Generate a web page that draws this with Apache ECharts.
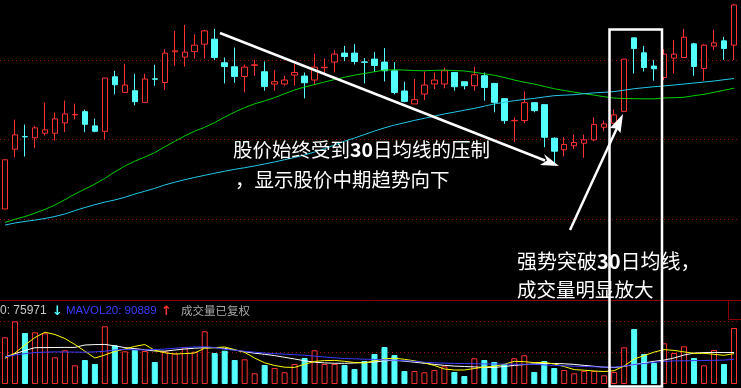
<!DOCTYPE html>
<html><head><meta charset="utf-8">
<script src="https://cdn.jsdelivr.net/npm/echarts@6/dist/echarts.min.js"></script>
<style>html,body{margin:0;padding:0;background:#000;}#c{width:741px;height:388px;}</style>
</head><body><div id="c"></div><script>
// ---- data ----
const openP = [9.03,15.03,16.30,16.17,16.63,16.63,17.67,18.48,18.80,17.37, 16.83,22.30,20.73,20.90,19.73,22.09,21.73,24.80,24.27,24.83, 25.57,26.07,23.70,23.30,22.33,23.45,22.80,21.57,21.57,22.47, 22.37,21.97,23.21,23.77,24.67,24.67,23.79,24.07,23.77,22.90, 20.87,19.57,20.57,21.57,21.57,22.73,21.80,21.40,22.40,21.63, 20.10,17.88,17.90,19.70,19.50,16.13,14.97,15.37,15.63,15.97, 17.23,17.63,18.83,26.20,24.70,23.37,22.23,24.17,24.23,25.60, 23.13,25.37,25.90,25.47];
const closeP = [13.97,16.47,16.27,17.17,16.97,18.07,18.57,18.52,17.53,16.83, 22.17,21.50,21.47,19.80,22.07,22.05,24.67,24.90,24.77,25.47, 26.90,24.23,23.33,22.33,23.27,23.49,21.33,21.80,21.97,22.73, 21.70,23.27,23.25,24.57,24.33,23.83,23.75,23.43,22.90,20.73, 19.83,20.00,21.47,21.97,22.90,21.30,21.40,22.50,21.23,19.73, 17.90,17.92,19.70,18.90,16.23,14.83,15.50,15.70,15.97,17.50, 17.57,18.47,24.07,25.13,23.23,23.10,24.57,24.57,26.27,23.33, 25.47,25.70,25.13,29.50];
const lowP = [9.03,14.23,14.30,15.13,16.40,15.90,16.73,18.00,16.73,16.73, 16.00,20.53,20.73,19.43,19.73,21.40,20.97,23.40,23.33,24.13, 24.13,23.97,21.63,21.70,20.73,22.40,20.90,20.90,21.40,21.40, 20.13,21.47,22.57,22.73,23.87,23.53,21.63,22.80,21.83,20.53, 19.73,19.57,19.97,21.07,21.13,20.90,21.03,20.90,19.90,18.73, 17.57,15.73,17.63,18.73,15.23,13.63,14.30,15.03,14.17,15.83, 16.83,17.63,18.83,22.63,22.83,21.90,21.97,22.63,24.23,22.40, 21.90,25.00,24.00,23.97];
const highP = [13.97,18.00,17.50,17.37,19.70,18.70,19.90,19.60,19.00,18.10, 22.17,22.90,23.60,22.60,22.60,23.50,25.07,26.90,27.50,26.57, 27.00,27.10,24.23,25.23,23.53,24.00,23.83,22.97,22.40,23.57, 22.73,24.60,24.13,24.97,25.40,25.57,24.17,24.77,25.17,23.77, 21.80,22.07,22.83,22.73,23.23,22.73,21.80,23.30,22.73,21.63, 20.10,18.23,20.83,19.70,19.50,16.23,16.23,16.50,16.50,18.23, 17.90,19.00,24.07,26.20,25.40,23.97,25.07,26.00,27.10,25.70, 25.57,27.00,26.30,29.60];
const ma30 = [7.68,8.00,8.27,8.62,8.99,9.43,9.97,10.53,11.03,11.53, 12.10,12.76,13.34,13.83,14.24,14.69,15.27,15.82,16.36,16.84, 17.23,17.70,18.25,18.75,19.21,19.58,19.88,20.20,20.60,20.97, 21.27,21.52,21.77,22.02,22.25,22.46,22.63,22.80,22.97,23.00, 22.97,22.92,22.90,22.94,22.97,22.92,22.88,22.75,22.60,22.45, 22.23,21.97,21.75,21.57,21.33,21.10,20.92,20.75,20.60,20.45, 20.30,20.16,20.12,20.10,20.08,20.08,20.17,20.20,20.24,20.40, 20.54,20.74,20.94,21.15];
const ma60 = [7.42,7.63,7.78,7.92,8.08,8.28,8.53,8.87,9.18,9.46, 9.72,9.94,10.20,10.53,10.81,11.10,11.44,11.72,11.97,12.20, 12.41,12.62,12.82,13.01,13.17,13.35,13.55,13.75,13.98,14.20, 14.45,14.75,15.08,15.45,15.83,16.15,16.50,16.85,17.17,17.45, 17.68,17.92,18.13,18.35,18.57,18.75,18.94,19.13,19.35,19.57, 19.74,19.90,20.02,20.13,20.27,20.40,20.45,20.50,20.60,20.68, 20.74,20.81,20.95,21.10,21.20,21.30,21.38,21.47,21.57,21.67, 21.77,21.87,22.00,22.12];
const volume = [46.7,62.7,51,51.7,50.7,26.7,33.7,18.7,24,20, 57.7,38.7,32.7,34,33,22,32.7,30.7,36.7,32.3, 52.7,31,33.3,24,24.7,10.7,19,16,11.7,20, 26,33.7,20,20,19,15,23,30,37,29, 13,13,11.7,14,17.7,12,8,25.7,24,22, 20,25.7,28.7,12,23,16,14,10.7,13,13, 8.7,12,36.7,55,30,21,40.7,31,37.7,26, 18.7,34,20,56];
const mavol5 = [25.6,31,39,46.4,51.8,49.5,45.5,39.5,32.8,26, 29,32.6,35,37.6,39.5,33.7,31.2,30,30.4,31, 35.8,36.4,37,34.4,31.6,26,21.2,18.5,16.8,16.6, 19.7,22.6,23.4,23.6,22.7,21.5,21,23.1,25.1,25.8, 24.7,23.2,21.2,18.5,15,14,14,15.5,17,17.6, 19.7,22.7,22.3,21.4,21.6,20,17.4,14.4,13.8,13, 12.5,13.3,18,25,28.4,31.9,34.4,33.6,32.1,30.7, 30.7,29.7,28.7,30.3];
const mavol10 = [27,30.3,33.5,36.3,36.4,36.5,36.6,36.6,39,39.4, 39.6,38.1,36.4,35.4,34.2,33,32.8,34,35,35.8, 36.3,36.3,35.6,33.9,32.3,30.8,29.7,28.4,26.7,25, 23.2,21.8,21.1,20.7,20.7,21,21.7,21.8,23.2,23.7, 22.8,21.8,20.7,19.6,18.6,17.9,17.5,17.1,16.6,16.6, 17.5,18.6,19.4,20.1,20.5,20.5,20.2,19.6,18.6,17.7, 16.8,16.5,17.6,19.4,21,22.7,23.9,26,29,30.9, 31.4,31.6,31.4,31.5];
const mavol20 = [27,29,30.3,31.5,31.8,32.1,32,31.9,31.8,32.1, 32.8,34,34.6,34.2,34.1,34.5,34.9,35.8,36.5,37, 37.2,36.5,34.7,33.8,32.7,31.8,31,30.4,29.8,29.3, 28.7,27.8,27,26.2,25.5,25.2,24.8,24.6,24.2,23.8, 23.3,22.7,21.8,21.2,20.9,20.6,20.4,20.3,20.1,20, 19.9,19.8,19.7,19.5,19.1,18.6,18.2,17.8,17.5,17.2, 16.9,16.9,18,19.4,20.5,21.7,22.6,23.1,23.2,23.4, 23.5,23.7,23.9,24.7];
const categories = openP.map((_, i) => 'D' + (i + 1));
const legendTexts = ['0: 75971', 'MAVOL20: 90889', '成交量已复权'];
const note1 = ['股价始终受到', '30', '日均线的压制', '，显示股价中期趋势向下'];
const note2 = ['强势突破', '30', '日均线，', '成交量明显放大'];

// ---- chart ----
const RED = '#ff3232', CYAN = '#54ffff';
const kData = openP.map((o, i) => [o, closeP[i], lowP[i], highP[i]]);
const volData = volume.map((v, i) => {
  const up = closeP[i] >= openP[i];
  return { value: v, itemStyle: { color: up ? '#000' : CYAN, borderColor: up ? RED : CYAN, borderWidth: 1 } };
});
const chart = echarts.init(document.getElementById('c'));
const cjk = '"Noto Sans CJK SC", sans-serif';
chart.setOption({
  backgroundColor: '#000',
  animation: false,
  grid: [
    { left: -1, top: -1, width: 740, height: 300 },
    { left: -1, top: 300, width: 740, height: 84 }
  ],
  xAxis: [
    { type: 'category', data: categories, gridIndex: 0, axisLine: { show: false }, axisTick: { show: false }, axisLabel: { show: false }, splitLine: { show: false } },
    { type: 'category', data: categories, gridIndex: 1, position: 'top', axisLine: { show: true, onZero: false, lineStyle: { color: '#8a0000', width: 1 } }, axisTick: { show: false }, axisLabel: { show: false }, splitLine: { show: false } }
  ],
  yAxis: [
    { type: 'value', gridIndex: 0, min: 0, max: 30, interval: 8, axisLine: { show: false }, axisTick: { show: false }, axisLabel: { show: false },
      splitLine: { show: true, showMinLine: false, showMaxLine: false, lineStyle: { color: '#a01010', type: [1, 3], width: 1 } } },
    { type: 'value', gridIndex: 1, min: 0, max: 84, interval: 31.5, axisLine: { show: false }, axisTick: { show: false }, axisLabel: { show: false },
      splitLine: { show: true, showMinLine: false, showMaxLine: false, lineStyle: { color: '#a01010', type: [1, 3], width: 1 } } }
  ],
  series: [
    { type: 'candlestick', xAxisIndex: 0, yAxisIndex: 0, data: kData, barWidth: 6,
      itemStyle: { color: '#000', color0: CYAN, borderColor: RED, borderColor0: CYAN, borderWidth: 1 } },
    { type: 'line', xAxisIndex: 0, yAxisIndex: 0, data: ma30, symbol: 'none', lineStyle: { color: '#00d000', width: 1 }, z: 3 },
    { type: 'line', xAxisIndex: 0, yAxisIndex: 0, data: ma60, symbol: 'none', lineStyle: { color: '#22c8e8', width: 1 }, z: 3 },
    { type: 'bar', xAxisIndex: 1, yAxisIndex: 1, data: volData, barWidth: 6 },
    { type: 'line', xAxisIndex: 1, yAxisIndex: 1, data: mavol10, symbol: 'none', lineStyle: { color: '#ffffff', width: 1 }, z: 3 },
    { type: 'line', xAxisIndex: 1, yAxisIndex: 1, data: mavol5, symbol: 'none', lineStyle: { color: '#ffff00', width: 1 }, z: 3 },
    { type: 'line', xAxisIndex: 1, yAxisIndex: 1, data: mavol20, symbol: 'none', lineStyle: { color: '#3c3cff', width: 1 }, z: 3 }
  ],
  graphic: [
    { type: 'line', z: 100, shape: { x1: 220, y1: 33, x2: 545, y2: 160.5 }, style: { stroke: '#fff', lineWidth: 2.5 } },
    { type: 'polygon', z: 100, shape: { points: [[559, 166], [544, 154], [547, 160.5], [540, 165]] }, style: { fill: '#fff' } },
    { type: 'line', z: 100, shape: { x1: 570, y1: 230, x2: 617, y2: 128 }, style: { stroke: '#fff', lineWidth: 2.5 } },
    { type: 'polygon', z: 100, shape: { points: [[623, 114], [620.5, 133], [616.5, 128.5], [610, 128]] }, style: { fill: '#fff' } },
    { type: 'rect', z: 100, shape: { x: 609.5, y: 29.5, width: 52.5, height: 357 }, style: { fill: 'none', stroke: '#fff', lineWidth: 2.5 } },
    { type: 'rect', z: 100, shape: { x: 728.5, y: 300.5, width: 14, height: 19 }, style: { fill: 'none', stroke: '#8a0000', lineWidth: 1 } },
    { type: 'text', z: 100, left: 233, top: 140, style: {
        text: '{a|' + note1[0] + '}{b|' + note1[1] + '}{a|' + note1[2] + '}',
        rich: { a: { fontSize: 19.5, fontFamily: cjk, fill: '#fff', color: '#fff' }, b: { fontSize: 19.5, fontWeight: 'bold', fontFamily: cjk, fill: '#fff', color: '#fff' } } } },
    { type: 'text', z: 100, left: 235, top: 170, style: { text: note1[3], font: '19.5px ' + cjk, fill: '#fff' } },
    { type: 'text', z: 100, left: 517, top: 251, style: {
        text: '{a|' + note2[0] + '}{b|' + note2[1] + '}{a|' + note2[2] + '}',
        rich: { a: { fontSize: 20, fontFamily: cjk, fill: '#fff', color: '#fff' }, b: { fontSize: 20, fontWeight: 'bold', fontFamily: cjk, fill: '#fff', color: '#fff' } } } },
    { type: 'text', z: 100, left: 517, top: 280, style: { text: note2[3], font: '19.5px ' + cjk, fill: '#fff' } },
    { type: 'text', z: 100, left: 0, top: 305, style: { text: legendTexts[0], font: '12px "Liberation Sans", sans-serif', fill: '#c8c8c8' } },
    { type: 'text', z: 100, left: 52, top: 305, style: { text: '↓', font: 'bold 13px "DejaVu Sans", sans-serif', fill: CYAN } },
    { type: 'text', z: 100, left: 66, top: 305, style: { text: legendTexts[1], font: '11.5px "Liberation Sans", sans-serif', fill: '#3c3cff' } },
    { type: 'text', z: 100, left: 161, top: 305, style: { text: '↑', font: 'bold 13px "DejaVu Sans", sans-serif', fill: RED } },
    { type: 'text', z: 100, left: 181, top: 305, style: { text: legendTexts[2], font: '11.5px ' + cjk, fill: '#a8a8a8' } }
  ]
});
</script></body></html>
